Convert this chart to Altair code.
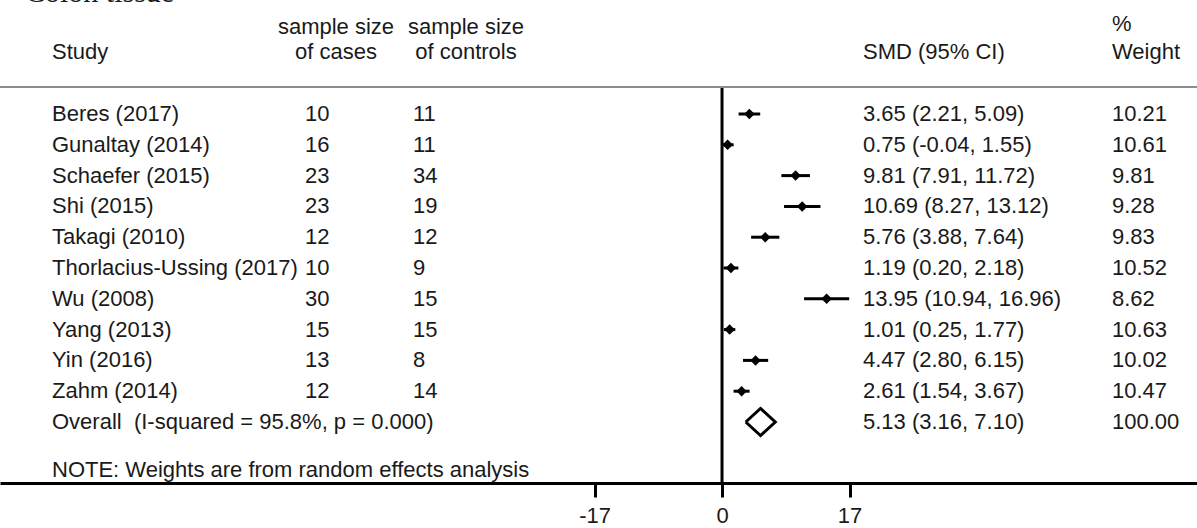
import altair as alt
import pandas as pd

# ---- data ----
title = "Colon tissue"
studies = ["Beres (2017)", "Gunaltay (2014)", "Schaefer (2015)", "Shi (2015)",
           "Takagi (2010)", "Thorlacius-Ussing (2017)", "Wu (2008)", "Yang (2013)",
           "Yin (2016)", "Zahm (2014)"]
cases = [10, 16, 23, 23, 12, 10, 30, 15, 13, 12]
controls = [11, 11, 34, 19, 12, 9, 15, 15, 8, 14]
smd = [3.65, 0.75, 9.81, 10.69, 5.76, 1.19, 13.95, 1.01, 4.47, 2.61]
lower = [2.21, -0.04, 7.91, 8.27, 3.88, 0.20, 10.94, 0.25, 2.80, 1.54]
upper = [5.09, 1.55, 11.72, 13.12, 7.64, 2.18, 16.96, 1.77, 6.15, 3.67]
weights = ["10.21", "10.61", "9.81", "9.28", "9.83", "10.52", "8.62", "10.63", "10.02", "10.47"]
overall_label = "Overall\u00a0 (I-squared = 95.8%, p = 0.000)"
overall_smd = 5.13
overall_lower = 3.16
overall_upper = 7.10
overall_weight = "100.00"
note = "NOTE: Weights are from random effects analysis"
tick_values = [-17, 0, 17]

FONT = "Liberation Sans"
FS = 22
W, H = 1197, 483

n = len(studies)
rows = list(range(n))
overall_row = n

df = pd.DataFrame({
    "row": rows, "study": studies, "cases": [str(c) for c in cases],
    "controls": [str(c) for c in controls], "smd": smd, "lower": lower, "upper": upper,
    "ci": [f"{s:.2f} ({l:.2f}, {u:.2f})" for s, l, u in zip(smd, lower, upper)],
    "weight": weights,
})
ov = pd.DataFrame({
    "row": [overall_row], "study": [overall_label],
    "ci": [f"{overall_smd:.2f} ({overall_lower:.2f}, {overall_upper:.2f})"],
    "weight": [overall_weight],
})
half = 0.44
dia = pd.DataFrame({
    "x": [overall_lower, overall_smd, overall_upper, overall_smd, overall_lower],
    "y": [overall_row, overall_row - half, overall_row, overall_row + half, overall_row],
    "ord": [0, 1, 2, 3, 4],
})
note_df = pd.DataFrame({"row": [overall_row + 1.55], "t": [note]})

xscale = alt.Scale(domain=[-96.27, 63.33], nice=False, zero=False)
yscale = alt.Scale(domain=[-3.7013, 11.9805], nice=False, zero=False, reverse=True)
xaxis = alt.Axis(values=tick_values, orient="bottom", title=None, grid=False,
                 domainColor="black", domainWidth=3, tickColor="black",
                 tickWidth=3, tickSize=14, labelFont=FONT, labelFontSize=FS,
                 labelColor="#1a1a1a", labelPadding=8, labelFlush=False,
                 labelExpr="datum.value < 0 ? '-' + abs(datum.value) : '' + datum.value")
X = lambda f: alt.X(f, scale=xscale, axis=xaxis)
Y = lambda f: alt.Y(f, scale=yscale, axis=None)

def coltext(field, xpx, data, align="left"):
    return alt.Chart(data).mark_text(font=FONT, fontSize=FS, align=align, baseline="middle",
                                     color="#1a1a1a").encode(
        x=alt.value(xpx), y=Y("row:Q"), text=f"{field}:N")

def header(txt, xpx, ypx, align="left"):
    return alt.Chart(pd.DataFrame({"t": [txt]})).mark_text(
        font=FONT, fontSize=FS, align=align, baseline="middle", color="#1a1a1a").encode(
        x=alt.value(xpx), y=alt.value(ypx), text="t:N")

one = pd.DataFrame({"a": [0]})

top_line = alt.Chart(one).mark_rule(color="#8c8c8c", strokeWidth=2).encode(
    x=alt.value(0), x2=alt.value(W), y=alt.value(87))

zero_line = alt.Chart(pd.DataFrame({"z": [0]})).mark_rule(color="black", strokeWidth=3).encode(
    x=X("z:Q"), y=alt.value(87), y2=alt.value(H))

ci = alt.Chart(df).mark_rule(color="black", strokeWidth=3).encode(
    x=X("lower:Q"), x2="upper:Q", y=Y("row:Q"))
pts = alt.Chart(df).mark_point(shape="diamond", filled=True, color="black", size=110,
                               opacity=1).encode(x=X("smd:Q"), y=Y("row:Q"))
diamond = alt.Chart(dia).mark_line(color="black", strokeWidth=3, strokeJoin="miter").encode(
    x=X("x:Q"), y=Y("y:Q"), order="ord:Q")

title_t = alt.Chart(pd.DataFrame({"t": [title]})).mark_text(
    font="Liberation Serif", fontSize=30, align="left", baseline="alphabetic",
    color="#1a1a1a").encode(x=alt.value(25), y=alt.value(2), text="t:N")

layers = [
    zero_line, top_line, ci, pts, diamond, title_t,
    header("Study", 52, 52),
    header("sample size", 336, 27, "center"), header("of cases", 336, 52, "center"),
    header("sample size", 466, 27, "center"), header("of controls", 466, 52, "center"),
    header("SMD (95% CI)", 863, 52),
    header("%", 1112, 24), header("Weight", 1112, 52),
    coltext("study", 52, df), coltext("cases", 305, df), coltext("controls", 413, df),
    coltext("ci", 863, df), coltext("weight", 1112, df),
    coltext("study", 52, ov), coltext("ci", 863, ov), coltext("weight", 1112, ov),
    alt.Chart(note_df).mark_text(font=FONT, fontSize=FS, align="left", baseline="middle",
                                 color="#1a1a1a").encode(x=alt.value(52), y=Y("row:Q"), text="t:N"),
]

chart = alt.layer(*layers).properties(
    width=W, height=H,
    padding={"left": 0, "top": 0, "right": 0, "bottom": 45},
    autosize=alt.AutoSizeParams(type="none"),
    background="white",
).configure_view(stroke=None)

chart.save("out.html", embed_options={"renderer": "svg", "actions": False})
